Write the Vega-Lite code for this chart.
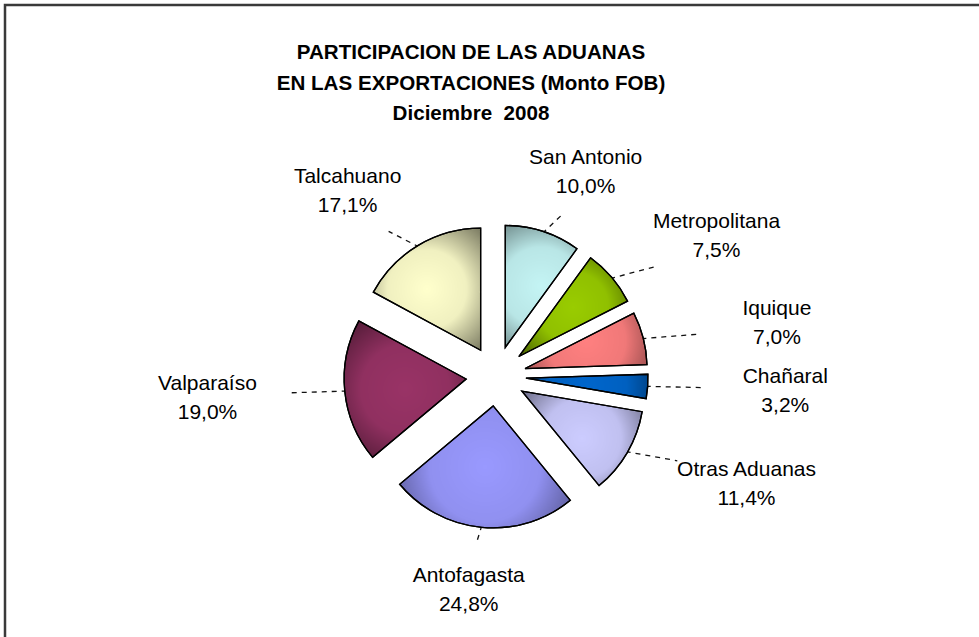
{
  "$schema": "https://vega.github.io/schema/vega-lite/v6.json",
  "width": 980,
  "height": 640,
  "autosize": "none",
  "padding": {"left": 5, "top": 5, "right": 0, "bottom": 0},
  "background": "white",
  "view": {"stroke": "#3a3a3a", "strokeWidth": 2.5, "fill": "white"},
  "title": {
    "text": ["PARTICIPACION DE LAS ADUANAS", "EN LAS EXPORTACIONES (Monto FOB)", "Diciembre\u00a0 2008"],
    "font": "Liberation Sans",
    "fontSize": 20.6,
    "fontWeight": "bold",
    "lineHeight": 30.5,
    "color": "black",
    "anchor": "middle",
    "frame": "group",
    "baseline": "top",
    "offset": -120,
    "dx": -24
  },
  "data": {
    "values": [
      {"aduana": "San Antonio", "pct": 10.0},
      {"aduana": "Metropolitana", "pct": 7.5},
      {"aduana": "Iquique", "pct": 7.0},
      {"aduana": "Chañaral", "pct": 3.2},
      {"aduana": "Otras Aduanas", "pct": 11.4},
      {"aduana": "Antofagasta", "pct": 24.8},
      {"aduana": "Valparaíso", "pct": 19.0},
      {"aduana": "Talcahuano", "pct": 17.1}
    ]
  },
  "transform": [
    {"window": [{"op": "sum", "field": "pct", "as": "cum"}], "frame": [null, 0]},
    {"calculate": "datum.cum - datum.pct", "as": "t0"},
    {"calculate": "(datum.cum - datum.pct / 2) * PI / 50", "as": "mid"},
    {"calculate": "0.246 * sin(datum.mid)", "as": "ex"},
    {"calculate": "0.246 * cos(datum.mid)", "as": "ey"},
    {"calculate": "1.23 * sin(datum.mid)", "as": "l0x"},
    {"calculate": "1.23 * cos(datum.mid)", "as": "l0y"},
    {"calculate": "1.72 * sin(datum.mid)", "as": "l1x"},
    {"calculate": "1.38 * cos(datum.mid)", "as": "l1y"},
    {"calculate": "2.377 * sin(datum.mid)", "as": "tx"},
    {"calculate": "1.762 * cos(datum.mid)", "as": "ty"},
    {"calculate": "datum.aduana + '\\n' + replace(format(datum.pct, '.1f'), '.', ',') + '%'", "as": "label"}
  ],
  "layer": [
    {
      "mark": {"type": "rule", "stroke": "#111111", "strokeWidth": 1.3, "strokeDash": [5, 5]},
      "encoding": {
        "x": {"field": "l0x", "type": "quantitative", "axis": null, "scale": {"domain": [-1, 1], "range": [369, 613], "nice": false, "zero": false}},
        "y": {"field": "l0y", "type": "quantitative", "axis": null, "scale": {"domain": [-1, 1], "range": [493, 249], "nice": false, "zero": false}},
        "x2": {"field": "l1x"},
        "y2": {"field": "l1y"}
      }
    },
    {
      "mark": {"type": "arc", "radius": 122, "stroke": "black", "strokeWidth": 1.3},
      "encoding": {
        "x": {"field": "ex", "type": "quantitative", "axis": null, "scale": {"domain": [-1, 1], "range": [369, 613], "nice": false, "zero": false}},
        "y": {"field": "ey", "type": "quantitative", "axis": null, "scale": {"domain": [-1, 1], "range": [493, 249], "nice": false, "zero": false}},
        "theta": {"field": "t0", "type": "quantitative", "stack": null, "scale": {"domain": [0, 100], "range": [0, 6.283185307179586]}},
        "theta2": {"field": "cum"},
        "color": {
          "field": "aduana",
          "type": "nominal",
          "legend": null,
          "scale": {
            "domain": ["San Antonio", "Metropolitana", "Iquique", "Chañaral", "Otras Aduanas", "Antofagasta", "Valparaíso", "Talcahuano"],
            "range": ["#c4f4f4", "#99cc00", "#ff8080", "#0066cc", "#ccccff", "#9999ff", "#993366", "#ffffcc"]
          }
        }
      }
    },
    {
      "mark": {
        "type": "arc",
        "radius": 122,
        "stroke": "black",
        "strokeWidth": 1.3,
        "fill": {
          "gradient": "radial",
          "x1": 0.5, "y1": 0.5, "r1": 0,
          "x2": 0.5, "y2": 0.5, "r2": 0.72,
          "stops": [
            {"offset": 0, "color": "rgba(0,0,0,0)"},
            {"offset": 0.45, "color": "rgba(0,0,0,0.06)"},
            {"offset": 1, "color": "rgba(0,0,0,0.6)"}
          ]
        }
      },
      "encoding": {
        "x": {"field": "ex", "type": "quantitative", "axis": null, "scale": {"domain": [-1, 1], "range": [369, 613], "nice": false, "zero": false}},
        "y": {"field": "ey", "type": "quantitative", "axis": null, "scale": {"domain": [-1, 1], "range": [493, 249], "nice": false, "zero": false}},
        "theta": {"field": "t0", "type": "quantitative", "stack": null, "scale": {"domain": [0, 100], "range": [0, 6.283185307179586]}},
        "theta2": {"field": "cum"}
      }
    },
    {
      "mark": {"type": "text", "font": "Liberation Sans", "fontSize": 21, "lineHeight": 29, "lineBreak": "\n", "align": "center", "baseline": "middle", "dy": -14, "color": "black"},
      "encoding": {
        "x": {"field": "tx", "type": "quantitative", "axis": null, "scale": {"domain": [-1, 1], "range": [369, 613], "nice": false, "zero": false}},
        "y": {"field": "ty", "type": "quantitative", "axis": null, "scale": {"domain": [-1, 1], "range": [493, 249], "nice": false, "zero": false}},
        "text": {"field": "label"}
      }
    }
  ]
}
